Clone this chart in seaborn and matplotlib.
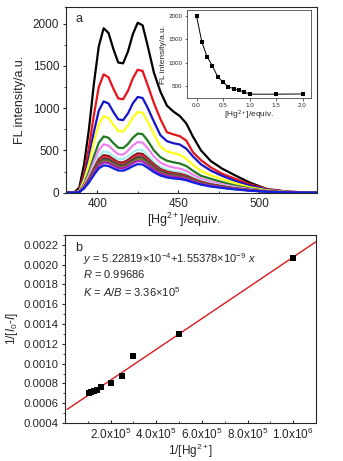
import numpy as np
import pandas as pd
import matplotlib
matplotlib.use("Agg")
import matplotlib.pyplot as plt
import matplotlib.ticker as mticker
import seaborn as sns

# ---------------- data ----------------
wavelength = [380, 386, 389, 392, 395, 398, 401, 404, 407, 410, 413, 416, 419, 422, 425, 428,
              431, 435, 439, 443, 447, 451, 455, 459, 464, 470, 477, 485, 494, 505, 518, 535]

spec_black = [0, 6, 60, 340, 760, 1290, 1730, 1945, 1890, 1700, 1540, 1530, 1670, 1875, 2010, 1980,
              1750, 1420, 1195, 1030, 960, 906, 818, 665, 500, 375, 285, 205, 120, 40, 10, 0]
spec_red = [0, 3, 35, 230, 540, 920, 1250, 1400, 1365, 1230, 1115, 1105, 1205, 1352, 1455, 1440,
            1280, 1060, 870, 715, 690, 668, 615, 480, 385, 300, 225, 165, 100, 42, 12, 0]
spec_blue = [0, 2, 25, 180, 420, 720, 970, 1080, 1055, 955, 868, 858, 938, 1057, 1132, 1120,
             1010, 840, 680, 610, 585, 570, 520, 430, 335, 262, 200, 140, 85, 35, 10, 0]
spec_yellow = [0, 2, 20, 150, 350, 600, 810, 905, 885, 803, 730, 724, 792, 890, 955, 945,
               845, 690, 545, 490, 468, 448, 400, 330, 255, 205, 160, 112, 65, 28, 8, 0]
spec_green = [0, 1, 15, 105, 250, 430, 590, 665, 650, 587, 532, 527, 577, 650, 700, 692,
              620, 500, 420, 378, 360, 345, 315, 260, 200, 165, 125, 85, 50, 20, 6, 0]
spec_violet = [0, 1, 12, 90, 215, 370, 505, 572, 558, 502, 454, 450, 497, 558, 600, 592,
               530, 428, 355, 318, 298, 285, 260, 215, 168, 132, 100, 70, 42, 17, 5, 0]
spec_cyan = [0, 1, 10, 78, 185, 320, 435, 488, 478, 433, 400, 397, 431, 478, 510, 503,
             450, 365, 305, 272, 255, 245, 222, 183, 143, 112, 85, 60, 36, 15, 4, 0]
spec_wine = [0, 1, 9, 70, 167, 288, 395, 444, 435, 396, 361, 357, 387, 432, 465, 458,
             409, 335, 279, 249, 233, 223, 202, 167, 130, 100, 77, 53, 33, 14, 4, 0]
spec_red2 = [0, 1, 9, 67, 160, 276, 378, 425, 416, 379, 346, 341, 370, 414, 445, 438,
             392, 320, 267, 238, 223, 214, 194, 160, 125, 96, 73, 51, 31, 13, 4, 0]
spec_gray = [0, 1, 8, 63, 151, 260, 357, 401, 393, 358, 327, 322, 350, 391, 420, 414,
             370, 302, 252, 225, 210, 202, 183, 151, 118, 90, 69, 48, 29, 13, 3, 0]
spec_olive = [0, 1, 8, 60, 144, 248, 340, 382, 374, 341, 311, 307, 333, 372, 400, 394,
              352, 288, 240, 214, 200, 192, 174, 144, 112, 86, 66, 46, 28, 12, 3, 0]
spec_magenta = [0, 1, 7, 56, 135, 232, 319, 358, 351, 320, 292, 288, 312, 349, 375, 369,
                330, 270, 225, 201, 188, 180, 163, 135, 105, 81, 62, 43, 26, 11, 3, 0]
spec_blue2 = [0, 1, 7, 51, 122, 210, 287, 323, 316, 288, 263, 260, 282, 314, 338, 333,
              297, 243, 203, 181, 169, 162, 147, 122, 95, 73, 56, 39, 24, 10, 3, 0]

spectra = [spec_black, spec_red, spec_blue, spec_yellow, spec_green, spec_violet, spec_cyan,
           spec_wine, spec_red2, spec_gray, spec_olive, spec_magenta, spec_blue2]
spec_colors = ["#000000", "#e8141b", "#1414c8", "#ffff1a", "#1f7a1f", "#ee82ee", "#a8eeee",
               "#7a1010", "#d83040", "#404040", "#707030", "#b020b0", "#1020e0"]

inset_equiv = [0.0, 0.1, 0.2, 0.3, 0.4, 0.5, 0.6, 0.7, 0.8, 0.9, 1.0, 1.5, 2.0]
inset_intensity = [2000, 1445, 1125, 935, 700, 590, 485, 450, 415, 380, 330, 330, 335]

inv_hg = [1.03e5, 1.12e5, 1.25e5, 1.42e5, 1.56e5, 2.0e5, 2.5e5, 3.0e5, 5.0e5, 1.0e6]
inv_dI = [0.000708, 0.000718, 0.000728, 0.000738, 0.000759, 0.000809, 0.000873, 0.001079,
          0.001299, 0.002066]
fit_intercept = 5.22819e-4
fit_slope = 1.55378e-9
fit_x = [1.0e4, 1.1e6]

bottom_xticks = [2e5, 4e5, 6e5, 8e5, 1e6]
bottom_yticks = [0.0004, 0.0006, 0.0008, 0.0010, 0.0012, 0.0014, 0.0016, 0.0018, 0.0020, 0.0022]

# ---------------- style ----------------
sns.set_style("ticks")
plt.rcParams['font.family'] = ['Liberation Sans', 'DejaVu Sans']
plt.rcParams['mathtext.fontset'] = 'custom'
plt.rcParams['mathtext.rm'] = 'Liberation Sans'
plt.rcParams['mathtext.it'] = 'Liberation Sans:italic'
plt.rcParams['mathtext.bf'] = 'Liberation Sans:bold'
plt.rcParams['axes.linewidth'] = 0.8
plt.rcParams['xtick.major.width'] = 0.8
plt.rcParams['ytick.major.width'] = 0.8
plt.rcParams['xtick.minor.width'] = 0.6
plt.rcParams['ytick.minor.width'] = 0.6
plt.rcParams['xtick.major.size'] = 2.5
plt.rcParams['ytick.major.size'] = 2.5
plt.rcParams['xtick.minor.size'] = 1.5
plt.rcParams['ytick.minor.size'] = 1.5
plt.rcParams['xtick.major.pad'] = 2
plt.rcParams['ytick.major.pad'] = 2

W, H = 343, 461
fig = plt.figure(figsize=(W / 100, H / 100), dpi=100)

def fr(l, t, r, b):
    return [l / W, 1 - b / H, (r - l) / W, (b - t) / H]

# ---------------- top panel ----------------
ax1 = fig.add_axes(fr(65.5, 6.7, 317, 192.7))
rows = []
for i, s in enumerate(spectra):
    for w, v in zip(wavelength, s):
        rows.append({"wl": w, "I": v, "curve": i})
df_spec = pd.DataFrame(rows)
sns.lineplot(data=df_spec, x="wl", y="I", hue="curve", palette=spec_colors,
             linewidth=1.6, legend=False, ax=ax1, estimator=None)
ax1.set_xlim(380.5, 535.5)
ax1.set_ylim(0, 2200)
ax1.xaxis.set_major_locator(mticker.MultipleLocator(50))
ax1.xaxis.set_minor_locator(mticker.MultipleLocator(25))
ax1.yaxis.set_major_locator(mticker.MultipleLocator(500))
ax1.yaxis.set_minor_locator(mticker.MultipleLocator(250))
ax1.tick_params(labelsize=8.5)
ax1.tick_params(axis="x", which="both", direction="in")
ax1.tick_params(axis="x", which="major", pad=4)
ax1.set_xlabel("[Hg$^{2+}$]/equiv.", fontsize=9)
ax1.set_ylabel("FL intensity/a.u.", fontsize=9)
ax1.xaxis.set_label_coords(0.47, -0.095)
ax1.yaxis.set_label_coords(-0.158, 0.5)
ax1.text(0.04, 0.965, "a", transform=ax1.transAxes, fontsize=9, va="top", ha="left")

# inset
ax_in = fig.add_axes(fr(187, 10, 311, 98.5))
df_in = pd.DataFrame({"eq": inset_equiv, "I": inset_intensity})
sns.lineplot(data=df_in, x="eq", y="I", color="black", linewidth=0.7, marker="s",
             markersize=2.2, markeredgewidth=0, ax=ax_in, estimator=None)
ax_in.set_xlim(-0.18, 2.16)
ax_in.set_ylim(238, 2128)
ax_in.xaxis.set_major_locator(mticker.MultipleLocator(0.5))
ax_in.xaxis.set_major_formatter(mticker.FormatStrFormatter('%.1f'))
ax_in.yaxis.set_major_locator(mticker.MultipleLocator(500))
ax_in.tick_params(labelsize=4.5, length=1.8, width=0.5, pad=1.5)
for sp in ax_in.spines.values():
    sp.set_linewidth(0.5)
ax_in.set_xlabel("[Hg$^{2+}$]/equiv.", fontsize=6)
ax_in.set_ylabel("FL intensity/a.u.", fontsize=6)
ax_in.xaxis.set_label_coords(0.5, -0.12)
ax_in.yaxis.set_label_coords(-0.16, 0.5)

# ---------------- bottom panel ----------------
ax2 = fig.add_axes(fr(65, 235, 316, 423))
df_b = pd.DataFrame({"x": inv_hg, "y": inv_dI})
fx = np.linspace(fit_x[0], fit_x[1], 50)
df_fit = pd.DataFrame({"x": fx, "y": fit_intercept + fit_slope * fx})
sns.lineplot(data=df_fit, x="x", y="y", color="#dc1818", linewidth=1.0, ax=ax2, estimator=None)
sns.scatterplot(data=df_b, x="x", y="y", marker="s", color="black", s=14, linewidth=0,
                ax=ax2, zorder=3)
ax2.set_xlim(0, 1.1e6)
ax2.set_ylim(0.0004, 0.0023)
ax2.set_xticks(bottom_xticks)
ax2.set_yticks(bottom_yticks)

def sci_fmt(v, pos):
    e = int(np.floor(np.log10(v)))
    m = v / 10 ** e
    return "%.1fx10$^{%d}$" % (m, e)

ax2.xaxis.set_major_formatter(mticker.FuncFormatter(sci_fmt))
ax2.yaxis.set_major_formatter(mticker.FormatStrFormatter('%.4f'))
ax2.xaxis.set_minor_locator(mticker.MultipleLocator(1e5))
ax2.yaxis.set_minor_locator(mticker.MultipleLocator(0.0001))
ax2.tick_params(labelsize=8.5)
ax2.tick_params(axis="y", labelsize=8.2)
ax2.tick_params(axis="x", which="both", direction="in")
ax2.tick_params(axis="x", which="major", pad=3)
ax2.set_xlabel("1/[Hg$^{2+}$]", fontsize=8.5)
ax2.set_ylabel("1/[$I_0$-$I$]", fontsize=8.5)
ax2.xaxis.set_label_coords(0.5, -0.1)
ax2.yaxis.set_label_coords(-0.18, 0.5)
ax2.text(0.04, 0.965, "b", transform=ax2.transAxes, fontsize=9, va="top", ha="left")
ax2.text(0.07, 0.872, "$y$ = 5.22819×10$^{-4}$+1.55378×10$^{-9}$ $x$",
         transform=ax2.transAxes, fontsize=8, va="center", ha="left")
ax2.text(0.07, 0.792, "$R$ = 0.99686", transform=ax2.transAxes, fontsize=8,
         va="center", ha="left")
ax2.text(0.07, 0.698, "$K$ = $A$/$B$ = 3.36×10$^{5}$", transform=ax2.transAxes,
         fontsize=8, va="center", ha="left")

fig.savefig("out.png", dpi=100)
